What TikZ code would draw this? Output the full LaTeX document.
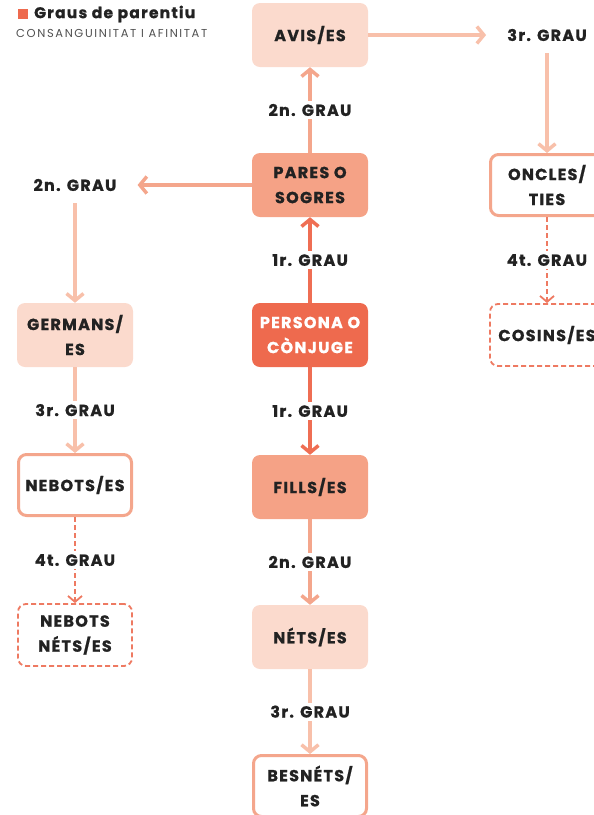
\documentclass[tikz,border=0pt]{standalone}
\usepackage{fontspec}
\setmainfont{Poppins}
\usepackage{tikz}
\usetikzlibrary{arrows.meta, positioning}

\definecolor{testo}{HTML}{222222}
\definecolor{grigio}{HTML}{505050}
\definecolor{fons1}{HTML}{EE6A4E}
\definecolor{fons2}{HTML}{F5A286}
\definecolor{fons3}{HTML}{FBDACD}
\definecolor{linea1}{HTML}{EF6E53}
\definecolor{linea2}{HTML}{F4A68C}
\definecolor{linea3}{HTML}{F8C0AA}
\definecolor{lineat}{HTML}{EE7A62}

\newcommand{\grassetto}{\bfseries\addfontfeatures{LetterSpace=8, FakeBold=1}}

\begin{document}
\begin{tikzpicture}[
			x=1pt, y=-1pt, node distance=150pt, on grid,
			% Definizione dello stile per i blocchi
			blocco/.style={rectangle, rounded corners=8pt, minimum width=116pt, minimum height=64pt, align=center, text=testo, font=\fontsize{16}{25}\selectfont\grassetto},
			bordo/.style={blocco, fill=white, draw=linea2, line width=3pt, minimum width=113pt, minimum height=61pt},
			puntini/.style={blocco, fill=white, draw=lineat, line width=1.8pt, dash pattern=on 5pt off 3pt, minimum width=114pt, minimum height=62pt},
			% Definizione dello stile per i gradi
			nodo grau/.style={fill=white, text=testo, font=\fontsize{16}{18}\selectfont\grassetto, inner xsep=21pt, inner ysep=12pt},
			etichetta/.style={fill=white, text=testo, font=\fontsize{16}{18}\selectfont\grassetto, inner sep=3pt},
			% Definizione dello stile per le frecce
			freccia/.style={-{Straight Barb[length=7pt, width=17pt]}, line width=3.5pt},
			tratteggio/.style={-{Straight Barb[length=6pt, width=14pt]}, line width=1.8pt, draw=lineat, dash pattern=on 5pt off 3pt}
			]
			\useasboundingbox (0,0) rectangle (594,815);
			
			% --- TITOLO ---
			\node[fill=fons1, minimum size=10pt, inner sep=0pt] (quadrato) at (23,14) {};
			\node[anchor=west, inner sep=0pt, text=testo, font=\fontsize{15.5}{18}\selectfont\grassetto] (titolo) at (34,14) {Graus de parentiu};
			\node[anchor=west, inner sep=0pt, text=grigio, font=\fontsize{11.5}{13}\selectfont\addfontfeatures{LetterSpace=14}] (sottotitolo) at (16,33) {CONSANGUINITAT I AFINITAT};
			
			% --- COLONNA CENTRALE ---
			\node[blocco, fill=fons3] (avis) at (310,35) {AVIS/ES};
			\node[blocco, fill=fons2, below=150pt of avis] (pares) {PARES O\\SOGRES};
			\node[blocco, fill=fons1, text=white, below=150pt of pares] (persona) {PERSONA O\\CÒNJUGE};
			\node[blocco, fill=fons2, below=152pt of persona] (fills) {FILLS/ES};
			\node[blocco, fill=fons3, below=150pt of fills] (nets) {NÉTS/ES};
			\node[bordo, below=149pt of nets] (besnets) {BESNÉTS/\\ES};
			
			% --- COLONNA SINISTRA ---
			\node[nodo grau, left=235pt of pares] (grau2) {2n. GRAU};
			\node[blocco, fill=fons3, below=150pt of grau2] (germans) {GERMANS/\\ES};
			\node[bordo, below=150pt of germans] (nebots) {NEBOTS/ES};
			\node[puntini, below=150pt of nebots] (renebots) {NEBOTS\\NÉTS/ES};
			
			% --- COLONNA DESTRA ---
			\node[nodo grau, right=237pt of avis] (grau3) {3r. GRAU};
			\node[bordo, below=150pt of grau3] (oncles) {ONCLES/\\TIES};
			\node[puntini, below=150pt of oncles] (cosins) {COSINS/ES};
			
			% --- FRECCE ---
			\draw[freccia, linea1] (persona) -- node[etichetta] {1r. GRAU} (pares);
			\draw[freccia, linea1] (persona) -- node[etichetta] {1r. GRAU} (fills);
			\draw[freccia, linea2] (pares) -- node[etichetta] {2n. GRAU} (avis);
			\draw[freccia, linea2] (fills) -- node[etichetta] {2n. GRAU} (nets);
			\draw[freccia, linea3] (nets) -- node[etichetta] {3r. GRAU} (besnets);
			
			\draw[freccia, linea2] (pares) -- (grau2);
			\draw[freccia, linea3] (grau2) -- (germans);
			\draw[freccia, linea3] (germans) -- node[etichetta] {3r. GRAU} (nebots);
			\draw[tratteggio] (nebots) -- node[etichetta] {4t. GRAU} (renebots);
			
			\draw[freccia, linea3] (avis) -- (grau3);
			\draw[freccia, linea3] (grau3) -- (oncles);
			\draw[tratteggio] (oncles) -- node[etichetta] {4t. GRAU} (cosins);
			
		\end{tikzpicture}
\end{document}
